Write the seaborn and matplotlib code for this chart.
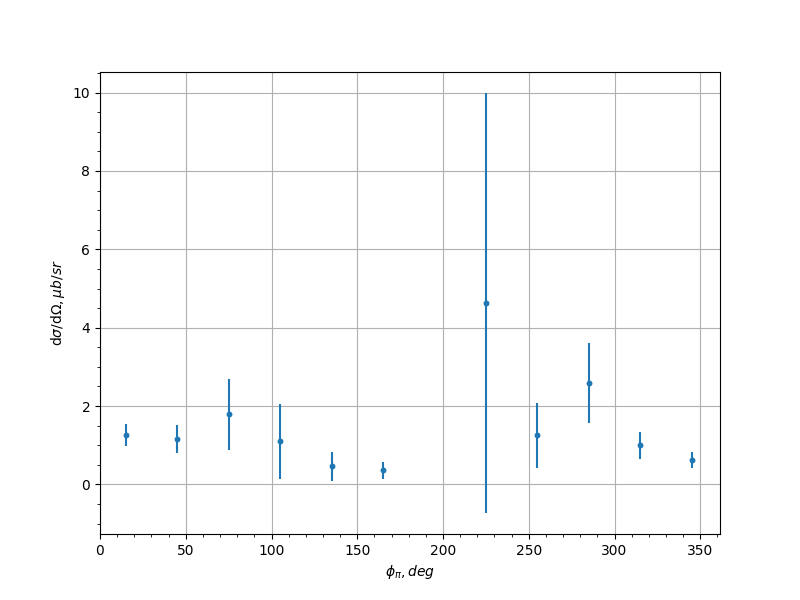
import numpy as np
import matplotlib
matplotlib.use("Agg")
import matplotlib.pyplot as plt
import seaborn as sns

# phi bins (deg) and cross section with errors
phi = [15, 45, 75, 105, 135, 165, 225, 255, 285, 315, 345]
xsec = [1.25, 1.15, 1.79, 1.10, 0.46, 0.36, 4.63, 1.26, 2.59, 1.00, 0.63]
xsec_err = [0.28, 0.36, 0.90, 0.95, 0.37, 0.22, 5.36, 0.83, 1.02, 0.34, 0.20]

fig, ax = plt.subplots(figsize=(8, 6), dpi=100)

ax.errorbar(phi, xsec, yerr=xsec_err, fmt='none', ecolor='C0')
sns.scatterplot(x=phi, y=xsec, ax=ax, marker='o', s=18, color='C0', linewidth=0, zorder=3)

ax.set_xlim(left=0)
ax.minorticks_on()
ax.grid(True, which='major')
ax.set_xlabel(r"$\phi_{\pi}, deg$")
ax.set_ylabel(r"d$\sigma$/d$\Omega, \mu b/sr$")

plt.savefig("out.png")
